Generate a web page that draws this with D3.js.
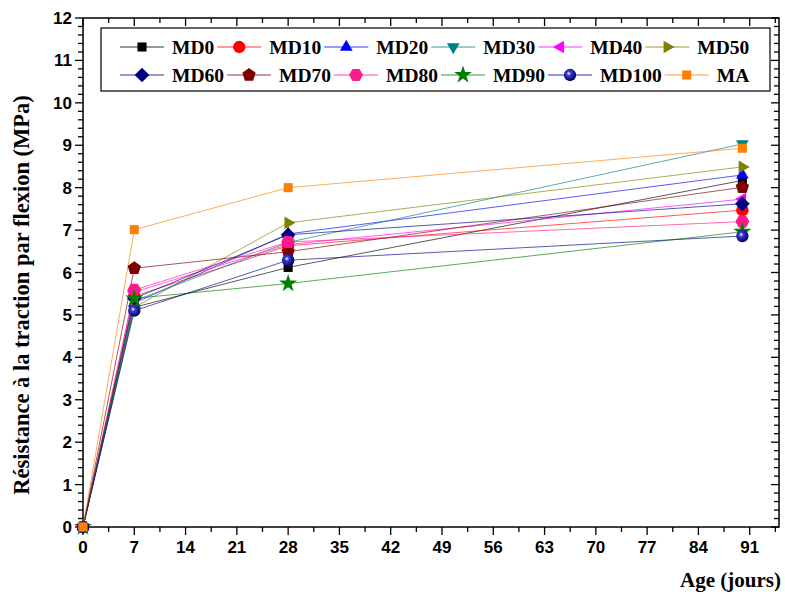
<!DOCTYPE html>
<html><head><meta charset="utf-8">
<script src="https://cdn.jsdelivr.net/npm/d3@7"></script>
<style>body{margin:0;background:#fff}svg{display:block}</style>
</head><body>
<svg id="c" width="785" height="599"></svg>
<script>
const ages = [0, 7, 28, 90];
const seriesNames = ["MD0","MD10","MD20","MD30","MD40","MD50","MD60","MD70","MD80","MD90","MD100","MA"];
const MD0   = [0, 5.18, 6.12, 8.17];
const MD10  = [0, 5.44, 6.63, 7.47];
const MD20  = [0, 5.28, 6.91, 8.30];
const MD30  = [0, 5.33, 6.71, 9.03];
const MD40  = [0, 5.54, 6.66, 7.73];
const MD50  = [0, 5.18, 7.17, 8.49];
const MD60  = [0, 5.39, 6.89, 7.62];
const MD70  = [0, 6.10, 6.49, 8.01];
const MD80  = [0, 5.59, 6.72, 7.20];
const MD90  = [0, 5.39, 5.74, 6.96];
const MD100 = [0, 5.10, 6.29, 6.86];
const MA    = [0, 7.01, 8.00, 8.93];
const seriesValues = [MD0,MD10,MD20,MD30,MD40,MD50,MD60,MD70,MD80,MD90,MD100,MA];
const xTicks = [0,7,14,21,28,35,42,49,56,63,70,77,84,91];
const yTicks = [0,1,2,3,4,5,6,7,8,9,10,11,12];

const colors = ["#000000","#ff0000","#0000ff","#008080","#ff00ff","#808000","#000080","#800000","#ff1a8c","#008000","#00008b","#ff8000"];
const shapes = ["square","circle","triUp","triDown","triLeft","triRight","diamond","pentagon","hexagon","star","sphere","square"];

const svg = d3.select("#c");
const L = 83, R = 779, T = 18, B = 527;
const x = d3.scaleLinear().domain([0, 95]).range([L, R]);
const y = d3.scaleLinear().domain([0, 12]).range([B, T]);

function poly(n, r, rot) {
  const pts = [];
  for (let i = 0; i < n; i++) {
    const a = rot + i * 2 * Math.PI / n;
    pts.push([r * Math.cos(a), r * Math.sin(a)]);
  }
  return "M" + pts.map(p => p[0].toFixed(2) + "," + p[1].toFixed(2)).join("L") + "Z";
}
function markerPath(shape) {
  const r = 7;
  switch (shape) {
    case "square": return poly(4, r * 0.92, Math.PI / 4);
    case "circle": return d3.symbol(d3.symbolCircle, 120)();
    case "sphere": return d3.symbol(d3.symbolCircle, 120)();
    case "triUp": return poly(3, r * 1.05, -Math.PI / 2);
    case "triDown": return poly(3, r * 1.05, Math.PI / 2);
    case "triLeft": return poly(3, r * 1.05, Math.PI);
    case "triRight": return poly(3, r * 1.05, 0);
    case "diamond": return poly(4, r * 1.05, -Math.PI / 2);
    case "pentagon": return poly(5, r, -Math.PI / 2);
    case "hexagon": return poly(6, r, 0);
    case "star": return d3.symbol(d3.symbolStar, 100)();
  }
}

const defs = svg.append("defs");
const grad = defs.append("radialGradient").attr("id", "sph").attr("cx", "40%").attr("cy", "38%").attr("r", "60%");
grad.append("stop").attr("offset", "0%").attr("stop-color", "#ffffff");
grad.append("stop").attr("offset", "30%").attr("stop-color", "#3a3ad0");
grad.append("stop").attr("offset", "100%").attr("stop-color", "#00006a");

function drawMarker(g, i, cx, cy) {
  const p = g.append("path").attr("d", markerPath(shapes[i]))
    .attr("transform", `translate(${cx},${cy})`);
  if (shapes[i] === "sphere") p.attr("fill", "url(#sph)");
  else p.attr("fill", colors[i]);
}

// frame
svg.append("rect").attr("x", L).attr("y", T).attr("width", R - L).attr("height", B - T)
  .attr("fill", "none").attr("stroke", "#000").attr("stroke-width", 1.5);

// ticks
const ax = svg.append("g").attr("stroke", "#000").attr("stroke-width", 1.3);
const xMinor = d3.range(0, 95, 3.5);
xMinor.forEach(v => {
  const major = Math.abs(v / 7 - Math.round(v / 7)) < 1e-6;
  const len = major ? 8 : 5;
  ax.append("line").attr("x1", x(v)).attr("x2", x(v)).attr("y1", B).attr("y2", B + len);
  ax.append("line").attr("x1", x(v)).attr("x2", x(v)).attr("y1", T).attr("y2", T + len);
});
const yMinor = d3.range(0, 12.001, 0.2);
yMinor.forEach(v => {
  const major = Math.abs(v - Math.round(v)) < 1e-6;
  const len = major ? 8 : 5;
  ax.append("line").attr("x1", L - len).attr("x2", L).attr("y1", y(v)).attr("y2", y(v));
  ax.append("line").attr("x1", R - len).attr("x2", R).attr("y1", y(v)).attr("y2", y(v));
});

const lab = svg.append("g").attr("font-family", "Liberation Sans, Arial, sans-serif")
  .attr("font-weight", "bold").attr("font-size", 17).attr("fill", "#000");
xTicks.forEach(v => {
  lab.append("text").attr("x", x(v)).attr("y", B + 26).attr("text-anchor", "middle").text(v);
});
yTicks.forEach(v => {
  lab.append("text").attr("x", L - 11).attr("y", y(v) + 6).attr("text-anchor", "end").text(v);
});

// titles
svg.append("text").attr("transform", "translate(29,295) rotate(-90)")
  .attr("text-anchor", "middle").attr("font-family", "Liberation Serif, Times New Roman, serif")
  .attr("font-weight", "bold").attr("font-size", 22.5).text("Résistance à la traction par flexion (MPa)");
svg.append("text").attr("x", 781).attr("y", 587).attr("text-anchor", "end")
  .attr("font-family", "Liberation Serif, Times New Roman, serif")
  .attr("font-weight", "bold").attr("font-size", 21).text("Age (jours)");

// lines
const line = d3.line().x((d, j) => x(ages[j])).y(d => y(d));
const plot = svg.append("g");
seriesValues.forEach((vals, i) => {
  plot.append("path").attr("d", line(vals)).attr("fill", "none")
    .attr("stroke", colors[i]).attr("stroke-width", 1).attr("stroke-opacity", 0.65);
});
seriesValues.forEach((vals, i) => {
  vals.forEach((v, j) => drawMarker(plot, i, x(ages[j]), y(v)));
});

// legend
const leg = svg.append("g");
leg.append("rect").attr("x", 101).attr("y", 28).attr("width", 669).attr("height", 63)
  .attr("fill", "#fff").attr("stroke", "#000").attr("stroke-width", 1.2);
const rows = [[0,1,2,3,4,5],[6,7,8,9,10,11]];
const rowY = [47, 75];
rows.forEach((row, ri) => {
  let cx = 120;
  row.forEach(i => {
    const yy = rowY[ri];
    leg.append("line").attr("x1", cx).attr("x2", cx + 44).attr("y1", yy).attr("y2", yy)
      .attr("stroke", colors[i]).attr("stroke-width", 1.2).attr("stroke-opacity", 0.8);
    drawMarker(leg, i, cx + 22, yy);
    const t = leg.append("text").attr("x", cx + 52).attr("y", yy + 7)
      .attr("font-family", "Liberation Serif, Times New Roman, serif")
      .attr("font-weight", "bold").attr("font-size", 19.5).text(seriesNames[i]);
    cx = cx + 52 + t.node().getComputedTextLength() + 3;
  });
});
</script>
</body></html>
